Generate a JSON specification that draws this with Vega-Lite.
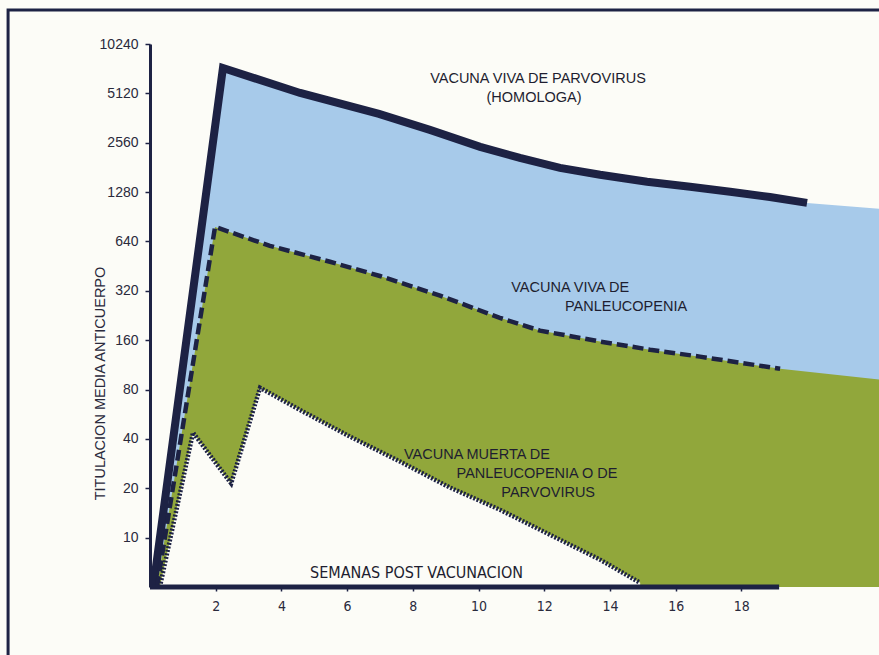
{
  "$schema": "https://vega.github.io/schema/vega-lite/v6.json",
  "width": 729,
  "height": 543,
  "autosize": {"type": "none"},
  "padding": {"left": 150, "top": 44, "right": 0, "bottom": 68},
  "background": "#fcfcf7",
  "config": {"view": {"stroke": null}, "font": "Liberation Sans"},
  "datasets": {
    "curvas": [
      {"serie": "viva_parvo", "semana": 0.1, "titulo": 5},
      {"serie": "viva_parvo", "semana": 2.22, "titulo": 7310},
      {"serie": "viva_parvo", "semana": 4.57, "titulo": 5149},
      {"serie": "viva_parvo", "semana": 6.97, "titulo": 3834},
      {"serie": "viva_parvo", "semana": 8.52, "titulo": 3065},
      {"serie": "viva_parvo", "semana": 10.05, "titulo": 2416},
      {"serie": "viva_parvo", "semana": 11.26, "titulo": 2068},
      {"serie": "viva_parvo", "semana": 12.48, "titulo": 1799},
      {"serie": "viva_parvo", "semana": 13.7, "titulo": 1632},
      {"serie": "viva_parvo", "semana": 15.13, "titulo": 1479},
      {"serie": "viva_parvo", "semana": 16.44, "titulo": 1380},
      {"serie": "viva_parvo", "semana": 17.66, "titulo": 1287},
      {"serie": "viva_parvo", "semana": 18.87, "titulo": 1195},
      {"serie": "viva_parvo", "semana": 20.0, "titulo": 1100},
      {"serie": "viva_parvo", "semana": 22.19, "titulo": 1013},
      {"serie": "viva_panleu", "semana": 0.21, "titulo": 5},
      {"serie": "viva_panleu", "semana": 1.98, "titulo": 785},
      {"serie": "viva_panleu", "semana": 3.65, "titulo": 602},
      {"serie": "viva_panleu", "semana": 5.48, "titulo": 481},
      {"serie": "viva_panleu", "semana": 7.0, "titulo": 394},
      {"serie": "viva_panleu", "semana": 8.83, "titulo": 299},
      {"serie": "viva_panleu", "semana": 10.65, "titulo": 219},
      {"serie": "viva_panleu", "semana": 11.87, "titulo": 183},
      {"serie": "viva_panleu", "semana": 13.7, "titulo": 157},
      {"serie": "viva_panleu", "semana": 15.22, "titulo": 140},
      {"serie": "viva_panleu", "semana": 16.74, "titulo": 127},
      {"serie": "viva_panleu", "semana": 19.18, "titulo": 107},
      {"serie": "viva_panleu", "semana": 22.19, "titulo": 92},
      {"serie": "muerta", "semana": 0.3, "titulo": 5},
      {"serie": "muerta", "semana": 1.31, "titulo": 43.7},
      {"serie": "muerta", "semana": 2.47, "titulo": 21.4},
      {"serie": "muerta", "semana": 3.35, "titulo": 82},
      {"serie": "muerta", "semana": 4.57, "titulo": 60},
      {"serie": "muerta", "semana": 6.09, "titulo": 41.3},
      {"serie": "muerta", "semana": 7.61, "titulo": 29.1},
      {"serie": "muerta", "semana": 9.13, "titulo": 20.2},
      {"serie": "muerta", "semana": 10.65, "titulo": 14.8},
      {"serie": "muerta", "semana": 12.18, "titulo": 10.4},
      {"serie": "muerta", "semana": 13.7, "titulo": 7.34},
      {"serie": "muerta", "semana": 14.92, "titulo": 5.3}
    ],
    "anotaciones": [
      {"texto": "VACUNA VIVA DE PARVOVIRUS", "semana": 11.81, "titulo": 6270},
      {"texto": "(HOMOLOGA)", "semana": 11.69, "titulo": 4800},
      {"texto": "VACUNA VIVA DE", "semana": 12.79, "titulo": 334},
      {"texto": "PANLEUCOPENIA", "semana": 14.49, "titulo": 256},
      {"texto": "VACUNA MUERTA DE", "semana": 9.95, "titulo": 32},
      {"texto": "PANLEUCOPENIA O DE", "semana": 11.78, "titulo": 24.3},
      {"texto": "PARVOVIRUS", "semana": 12.12, "titulo": 18.8}
    ]
  },
  "layer": [
    {
      "data": {"name": "curvas"},
      "transform": [{"filter": "datum.serie === 'viva_parvo'"}],
      "mark": {"type": "area", "color": "#a7caea", "opacity": 1},
      "encoding": {
        "x": {"field": "semana", "type": "quantitative", "scale": {"domain": [0, 22.19], "nice": false, "zero": false},
          "axis": {"values": [2, 4, 6, 8, 10, 12, 14, 16, 18], "zindex": 1, "domain": false, "grid": false, "tickSize": 4, "tickColor": "#1d2244", "tickWidth": 1.5,
            "labelFont": "DejaVu Sans Condensed, Liberation Sans, sans-serif", "labelFontSize": 14, "labelColor": "#2a2a3c", "labelPadding": 8,
            "title": "SEMANAS POST VACUNACION", "titleFont": "DejaVu Sans Condensed, Liberation Sans, sans-serif", "titleFontSize": 16, "titleFontWeight": "normal", "titleColor": "#1e1e30",
            "titleX": 266, "titleY": -15, "titleBaseline": "middle", "titleAlign": "center"}},
        "y": {"field": "titulo", "type": "quantitative", "scale": {"type": "log", "base": 2, "domain": [5, 10240], "nice": false, "zero": false},
          "axis": {"values": [10, 20, 40, 80, 160, 320, 640, 1280, 2560, 5120, 10240], "format": "d", "grid": false, "zindex": 1,
            "domain": true, "domainColor": "#1d2244", "domainWidth": 3, "tickSize": 5, "tickColor": "#1d2244", "tickWidth": 1.5,
            "labelFontSize": 14, "labelColor": "#2a2a3c", "labelPadding": 7,
            "title": "TITULACION MEDIA ANTICUERPO", "titleFontSize": 14.5, "titleFontWeight": "normal", "titleColor": "#2a2a3c",
            "titleX": -50, "titleY": 339, "titleAngle": 270, "titleAlign": "center", "titleBaseline": "middle"}},
        "y2": {"datum": 5}
      }
    },
    {
      "data": {"name": "curvas"},
      "transform": [{"filter": "datum.serie === 'viva_panleu'"}],
      "mark": {"type": "area", "color": "#91a73b", "opacity": 1},
      "encoding": {
        "x": {"field": "semana", "type": "quantitative", "scale": {"domain": [0, 22.19], "nice": false, "zero": false}},
        "y": {"field": "titulo", "type": "quantitative", "scale": {"type": "log", "base": 2, "domain": [5, 10240], "nice": false, "zero": false}},
        "y2": {"datum": 5}
      }
    },
    {
      "data": {"name": "curvas"},
      "transform": [{"filter": "datum.serie === 'muerta'"}],
      "mark": {"type": "area", "color": "#fcfcf7", "opacity": 1},
      "encoding": {
        "x": {"field": "semana", "type": "quantitative", "scale": {"domain": [0, 22.19], "nice": false, "zero": false}},
        "y": {"field": "titulo", "type": "quantitative", "scale": {"type": "log", "base": 2, "domain": [5, 10240], "nice": false, "zero": false}},
        "y2": {"datum": 5}
      }
    },
    {
      "data": {"name": "curvas"},
      "transform": [{"filter": "datum.serie === 'viva_parvo' && datum.semana <= 20.05"}],
      "mark": {"type": "line", "color": "#1d2244", "strokeWidth": 8, "strokeCap": "butt", "strokeJoin": "miter"},
      "encoding": {
        "x": {"field": "semana", "type": "quantitative", "scale": {"domain": [0, 22.19], "nice": false, "zero": false}},
        "y": {"field": "titulo", "type": "quantitative", "scale": {"type": "log", "base": 2, "domain": [5, 10240], "nice": false, "zero": false}}
      }
    },
    {
      "data": {"name": "curvas"},
      "transform": [{"filter": "datum.serie === 'viva_panleu' && datum.semana <= 19.2"}],
      "mark": {"type": "line", "color": "#1d2244", "strokeWidth": 4.5, "strokeDash": [11, 5], "strokeCap": "butt", "strokeJoin": "miter"},
      "encoding": {
        "x": {"field": "semana", "type": "quantitative", "scale": {"domain": [0, 22.19], "nice": false, "zero": false}},
        "y": {"field": "titulo", "type": "quantitative", "scale": {"type": "log", "base": 2, "domain": [5, 10240], "nice": false, "zero": false}}
      }
    },
    {
      "data": {"name": "curvas"},
      "transform": [{"filter": "datum.serie === 'muerta'"}],
      "mark": {"type": "line", "color": "#1d2244", "strokeWidth": 4.5, "strokeDash": [2, 1.6], "strokeCap": "butt", "strokeJoin": "miter"},
      "encoding": {
        "x": {"field": "semana", "type": "quantitative", "scale": {"domain": [0, 22.19], "nice": false, "zero": false}},
        "y": {"field": "titulo", "type": "quantitative", "scale": {"type": "log", "base": 2, "domain": [5, 10240], "nice": false, "zero": false}}
      }
    },
    {
      "data": {"values": [{}]},
      "mark": {"type": "rule", "color": "#1d2244", "strokeWidth": 5, "strokeCap": "butt"},
      "encoding": {
        "x": {"datum": 0, "type": "quantitative", "scale": {"domain": [0, 22.19], "nice": false, "zero": false}},
        "x2": {"datum": 19.15},
        "y": {"datum": 5, "type": "quantitative", "scale": {"type": "log", "base": 2, "domain": [5, 10240], "nice": false, "zero": false}}
      }
    },
    {
      "data": {"values": [{}]},
      "mark": {"type": "rect", "fill": null, "filled": false, "stroke": "#1d2244", "strokeWidth": 3, "clip": false},
      "encoding": {
        "x": {"datum": -4.32, "type": "quantitative", "scale": {"domain": [0, 22.19], "nice": false, "zero": false}},
        "x2": {"datum": 25},
        "y": {"datum": 16500, "type": "quantitative", "scale": {"type": "log", "base": 2, "domain": [5, 10240], "nice": false, "zero": false}},
        "y2": {"datum": 1}
      }
    },
    {
      "data": {"name": "anotaciones"},
      "mark": {"type": "text", "font": "Liberation Sans", "fontSize": 14.5, "color": "#1e1e30", "align": "center", "baseline": "middle"},
      "encoding": {
        "x": {"field": "semana", "type": "quantitative", "scale": {"domain": [0, 22.19], "nice": false, "zero": false}},
        "y": {"field": "titulo", "type": "quantitative", "scale": {"type": "log", "base": 2, "domain": [5, 10240], "nice": false, "zero": false}},
        "text": {"field": "texto"}
      }
    }
  ]
}
